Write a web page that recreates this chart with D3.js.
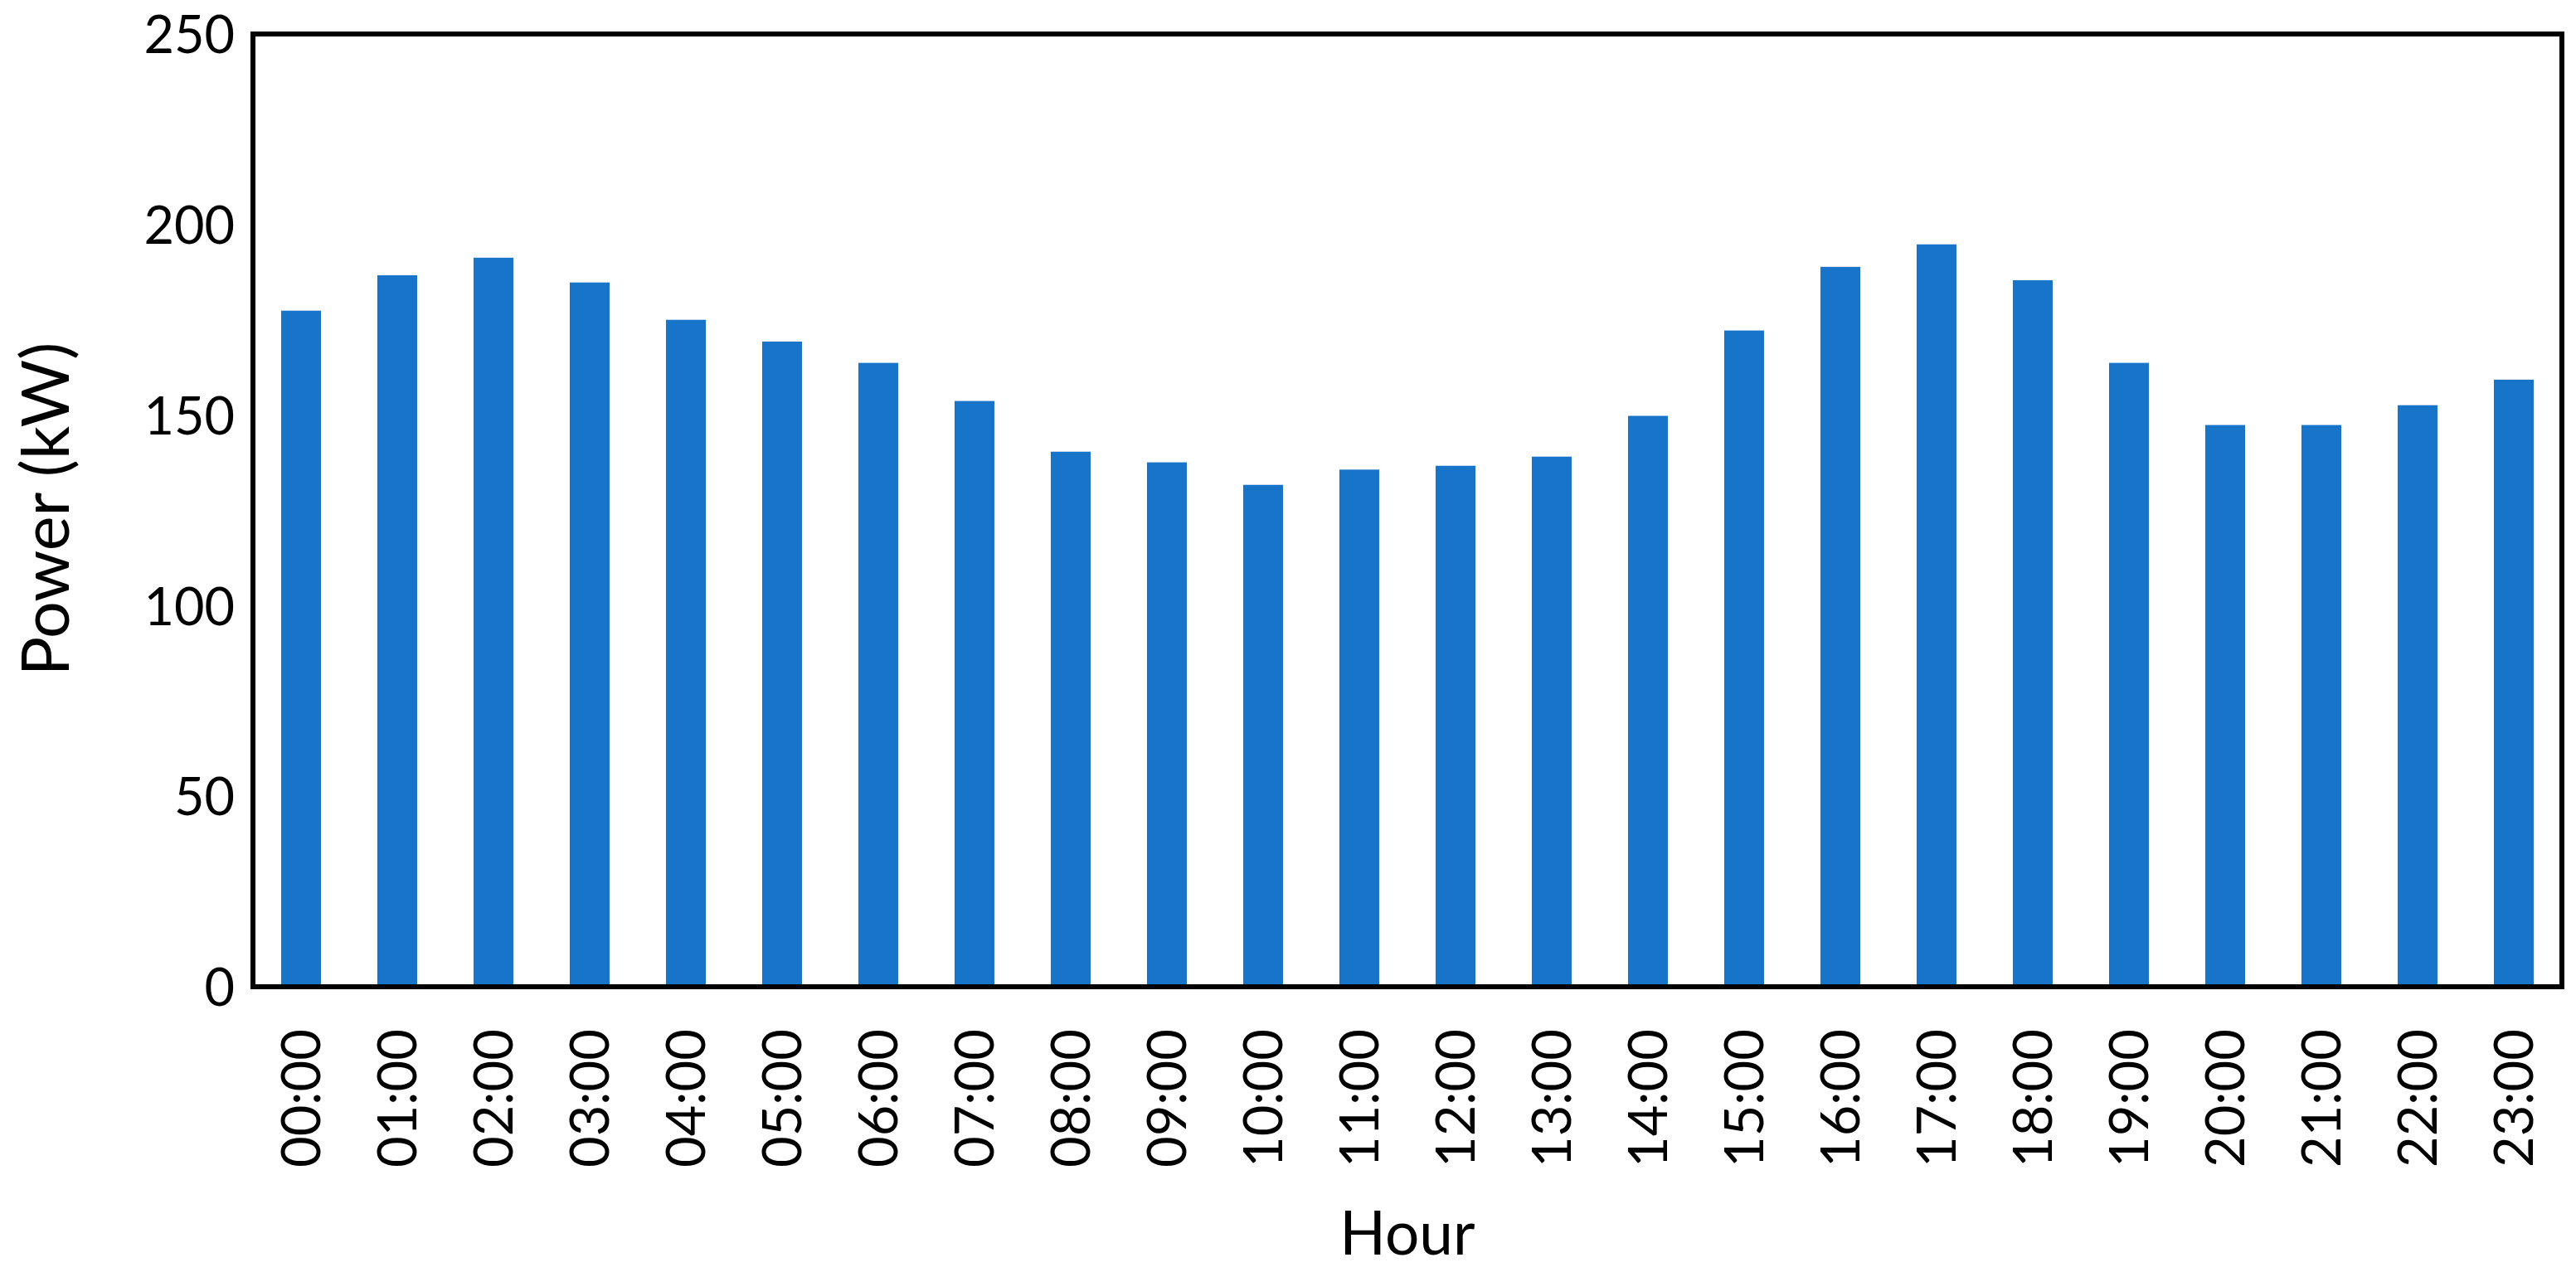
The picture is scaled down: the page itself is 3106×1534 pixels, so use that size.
<!DOCTYPE html>
<html>
<head>
<meta charset="utf-8">
<script src="https://cdn.jsdelivr.net/npm/d3@7"></script>
<style>
  html, body { margin: 0; padding: 0; background: #ffffff; }
  svg { display: block; }
  text { font-family: Lato, "Open Sans", sans-serif; fill: #000; }
</style>
</head>
<body>
<svg id="chart" width="3106" height="1534"></svg>
<script>
const categories = ["00:00","01:00","02:00","03:00","04:00","05:00","06:00","07:00","08:00","09:00","10:00","11:00","12:00","13:00","14:00","15:00","16:00","17:00","18:00","19:00","20:00","21:00","22:00","23:00"];
const power = [177.4, 186.7, 191.3, 184.8, 175.0, 169.3, 163.7, 153.7, 140.4, 137.6, 131.7, 135.7, 136.7, 139.1, 149.8, 172.2, 188.9, 194.8, 185.4, 163.7, 147.4, 147.4, 152.6, 159.3];
const yTicks = [0, 50, 100, 150, 200, 250];
const yTitle = "Power (kW)";
const xTitle = "Hour";

(function () {
const svg = d3.select("#chart");
const mLeft = 305, mRight = 3089, mTop = 41, mBottom = 1190;

const x = d3.scaleBand().domain(categories).range([mLeft, mRight]).paddingInner(0.586).paddingOuter(0.293);
const y = d3.scaleLinear().domain([0, 250]).range([mBottom, mTop]);

svg.append("g").selectAll("rect").data(power).join("rect")
  .attr("x", (d, i) => x(categories[i]))
  .attr("y", d => y(d))
  .attr("width", x.bandwidth())
  .attr("height", d => y(0) - y(d))
  .attr("fill", "#1874c8");

// Y axis
const yAxis = svg.append("g").attr("transform", `translate(${mLeft},0)`)
  .call(d3.axisLeft(y).tickValues(yTicks).tickSize(0).tickPadding(22));
yAxis.select(".domain").remove();
yAxis.selectAll("text")
  .style("font-size", "63px").style("font-family", "Lato, sans-serif").attr("fill", "#000")
  .attr("dy", "0.36em");

// X axis
const xAxis = svg.append("g").attr("transform", `translate(0,${mBottom})`)
  .call(d3.axisBottom(x).tickSize(0));
xAxis.select(".domain").remove();
xAxis.selectAll("text")
  .style("font-size", "65px").style("font-family", "Lato, sans-serif").attr("fill", "#000")
  .attr("transform", "rotate(-90)")
  .attr("text-anchor", "end")
  .attr("x", -51)
  .attr("y", 0)
  .attr("dy", "0.36em");

// Frame
svg.append("rect")
  .attr("x", mLeft).attr("y", mTop)
  .attr("width", mRight - mLeft).attr("height", mBottom - mTop)
  .attr("fill", "none").attr("stroke", "#000").attr("stroke-width", 6);

// Titles
svg.append("text")
  .attr("transform", "translate(55,614) rotate(-90)")
  .attr("text-anchor", "middle").attr("dy", "0.36em")
  .style("font-size", "79px")
  .text(yTitle);

svg.append("text")
  .attr("x", (mLeft + mRight) / 2).attr("y", 1513)
  .attr("text-anchor", "middle")
  .style("font-size", "73px")
  .text(xTitle);
})();
</script>
</body>
</html>
